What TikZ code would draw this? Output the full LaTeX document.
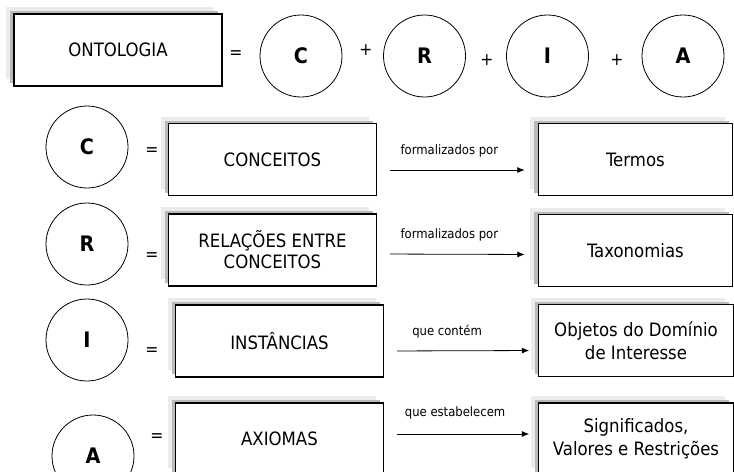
\documentclass[tikz,border=0pt]{standalone}
\usepackage{fontspec}
\setmainfont{DejaVu Sans Condensed}
\usetikzlibrary{arrows.meta, positioning, shadows}

\begin{document}
\begin{tikzpicture}[
    x=0.75pt, y=-0.75pt,
    box/.style={draw, rectangle, fill=white, line width=0.8pt, minimum width=156pt, minimum height=54pt, align=center,
        font=\fontsize{13.8}{15.75}\selectfont,
        general shadow={fill=gray!15, shadow xshift=-6pt, shadow yshift=5.25pt},
        general shadow={fill=gray!55, shadow xshift=-3pt, shadow yshift=2.25pt}},
    result/.style={box, minimum width=146pt, font=\fontsize{13.8}{17.25}\selectfont},
    part/.style={draw, circle, line width=0.6pt, minimum size=61.5pt, inner sep=0pt, font=\fontsize{16}{18}\selectfont\bfseries},
    sign/.style={font=\fontsize{13}{15}\selectfont, inner sep=1pt},
    arrow/.style={-{Latex[length=5.5pt,width=4.5pt]}, line width=0.6pt},
    lbl/.style={font=\fontsize{9.7}{11}\selectfont, inner sep=2pt}
]
\useasboundingbox (0,0) rectangle (734,471);
\clip (0,0) rectangle (734,471);

% Ontologia = C + R + I + A
\node[box] (onto) at (118,50) {ONTOLOGIA};
\node[sign] (eq0) at (236,55) {=};
\node[part] (c0) at (301,56) {C};
\node[sign] (plus1) at (366,50) {+};
\node[part] (r0) at (424.5,56) {R};
\node[sign] (plus2) at (487,60) {+};
\node[part] (i0) at (547.5,56) {I};
\node[sign] (plus3) at (617,60) {+};
\node[part] (a0) at (683,56) {A};

% Conceitos
\node[part] (c1) at (87,147) {C};
\node[sign] (eq1) at (152,152) {=};
\node[box] (conc) at (272.5,159.5) {CONCEITOS};
\node[result] (termos) at (635.5,159.5) {Termos};
\draw[arrow, shorten <=9.75pt, shorten >=9.75pt] ([yshift=-7.9pt]conc.east) --
    node[lbl, above=7pt, xshift=-6pt] {formalizados por} ([yshift=-7.9pt]termos.west);

% Relacoes
\node[part] (r1) at (87,244) {R};
\node[sign] (eq2) at (152,257) {=};
\node[box] (rel) at (272.5,250) {RELAÇÕES ENTRE\\CONCEITOS};
\node[result] (tax) at (635.5,250.5) {Taxonomias};
\draw[arrow, shorten <=9.75pt, shorten >=9.75pt] ([yshift=-3pt]rel.east) --
    node[lbl, above=7.5pt, xshift=-6pt] {formalizados por} ([yshift=-3pt]tax.west);

% Instancias
\node[part] (i1) at (87,340) {I};
\node[sign] (eq3) at (152,352) {=};
\node[box] (inst) at (279.5,341) {INSTÂNCIAS};
\node[result] (obj) at (636,340.5) {Objetos do Domínio\\de Interesse};
\draw[arrow, shorten <=9.75pt, shorten >=6.75pt] ([yshift=-7.5pt]inst.east) --
    node[lbl, above=7pt, xshift=-10.5pt] {que contém} ([yshift=-7.5pt]obj.west);

% Axiomas
\node[part] (a1) at (93,456) {A};
\node[sign] (eq4) at (157,438) {=};
\node[box] (axi) at (279.5,439) {AXIOMAS};
\node[result] (sig) at (636,439) {Significados,\\Valores e Restrições};
\draw[arrow, shorten <=9.75pt, shorten >=6.75pt] ([yshift=3.75pt]axi.east) --
    node[lbl, above=8.5pt, xshift=-4.5pt] {que estabelecem} ([yshift=3.75pt]sig.west);

\end{tikzpicture}
\end{document}
